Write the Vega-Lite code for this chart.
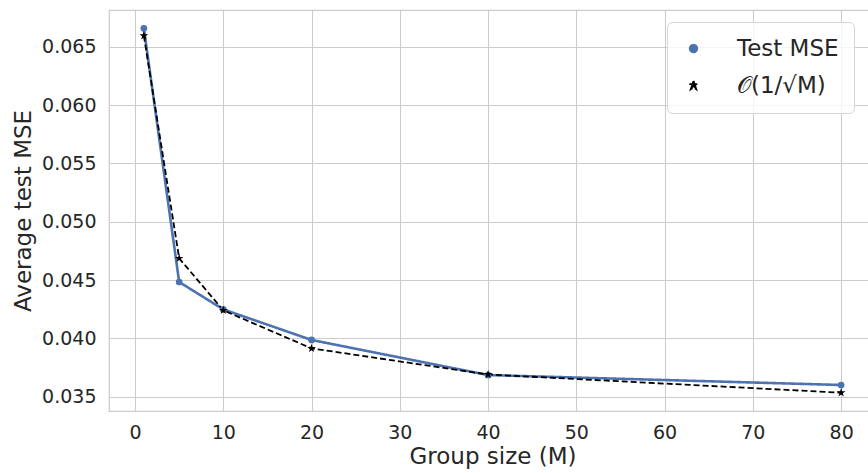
{
  "$schema": "https://vega.github.io/schema/vega-lite/v6.json",
  "autosize": "none",
  "width": 767,
  "height": 401,
  "padding": {"left": 109, "top": 10, "right": 0, "bottom": 62},
  "background": "white",
  "config": {
    "view": {"stroke": "#cccccc", "strokeWidth": 1.25},
    "font": "DejaVu Sans",
    "axis": {
      "domain": false, "ticks": false, "grid": true,
      "gridColor": "#cccccc", "gridWidth": 1.1,
      "labelFont": "DejaVu Sans", "labelFontSize": 19, "labelColor": "#262626",
      "titleFont": "DejaVu Sans", "titleFontSize": 23, "titleFontWeight": "normal", "titleColor": "#262626"
    }
  },
  "data": {"values": [
    {"M": 1, "mse": 0.06658, "series": "Test MSE"},
    {"M": 5, "mse": 0.04483, "series": "Test MSE"},
    {"M": 10, "mse": 0.04248, "series": "Test MSE"},
    {"M": 20, "mse": 0.03986, "series": "Test MSE"},
    {"M": 40, "mse": 0.03685, "series": "Test MSE"},
    {"M": 80, "mse": 0.03600, "series": "Test MSE"},
    {"M": 1, "mse": 0.06595, "series": "𝒪(1/√M)"},
    {"M": 5, "mse": 0.04686, "series": "𝒪(1/√M)"},
    {"M": 10, "mse": 0.04240, "series": "𝒪(1/√M)"},
    {"M": 20, "mse": 0.03914, "series": "𝒪(1/√M)"},
    {"M": 40, "mse": 0.03690, "series": "𝒪(1/√M)"},
    {"M": 80, "mse": 0.03534, "series": "𝒪(1/√M)"}
  ]},
  "encoding": {
    "x": {"field": "M", "type": "quantitative",
      "scale": {"domain": [-2.95, 83.95], "nice": false, "zero": false},
      "axis": {"values": [0, 10, 20, 30, 40, 50, 60, 70, 80], "title": "Group size (M)", "labelPadding": 12, "titlePadding": 3}},
    "y": {"field": "mse", "type": "quantitative",
      "scale": {"domain": [0.03377, 0.06815], "nice": false, "zero": false},
      "axis": {"values": [0.035, 0.04, 0.045, 0.05, 0.055, 0.06, 0.065], "format": ".3f", "title": "Average test MSE", "labelPadding": 13, "titlePadding": 6}},
    "color": {"field": "series", "type": "nominal",
      "scale": {"domain": ["Test MSE", "𝒪(1/√M)"], "range": ["#4c72b0", "#000000"]},
      "legend": {
        "orient": "none", "legendX": 558, "legendY": 12, "title": null,
        "labelFont": "DejaVu Sans", "labelFontSize": 23, "labelColor": "#262626",
        "labelOffset": 32, "padding": 15, "rowPadding": 13,
        "fillColor": "rgba(255,255,255,0.8)", "strokeColor": "#d6d6d6", "cornerRadius": 5
      }}
  },
  "layer": [
    {
      "mark": {"type": "line"},
      "encoding": {
        "strokeDash": {"field": "series", "type": "nominal",
          "scale": {"domain": ["Test MSE", "𝒪(1/√M)"], "range": [[1, 0], [6, 3]]}, "legend": null},
        "strokeWidth": {"field": "series", "type": "nominal",
          "scale": {"type": "ordinal", "domain": ["Test MSE", "𝒪(1/√M)"], "range": [2.6, 1.8]}, "legend": null}
      }
    },
    {
      "mark": {"type": "point", "filled": true, "opacity": 1},
      "encoding": {
        "shape": {"field": "series", "type": "nominal",
          "scale": {"domain": ["Test MSE", "𝒪(1/√M)"], "range": ["circle", "M0,-1L0.2245,-0.309L0.9511,-0.309L0.3633,0.118L0.5878,0.809L0,0.382L-0.5878,0.809L-0.3633,0.118L-0.9511,-0.309L-0.2245,-0.309Z"]}, "legend": null},
        "size": {"field": "series", "type": "nominal",
          "scale": {"type": "ordinal", "domain": ["Test MSE", "𝒪(1/√M)"], "range": [45, 85]}, "legend": null}
      }
    }
  ]
}
